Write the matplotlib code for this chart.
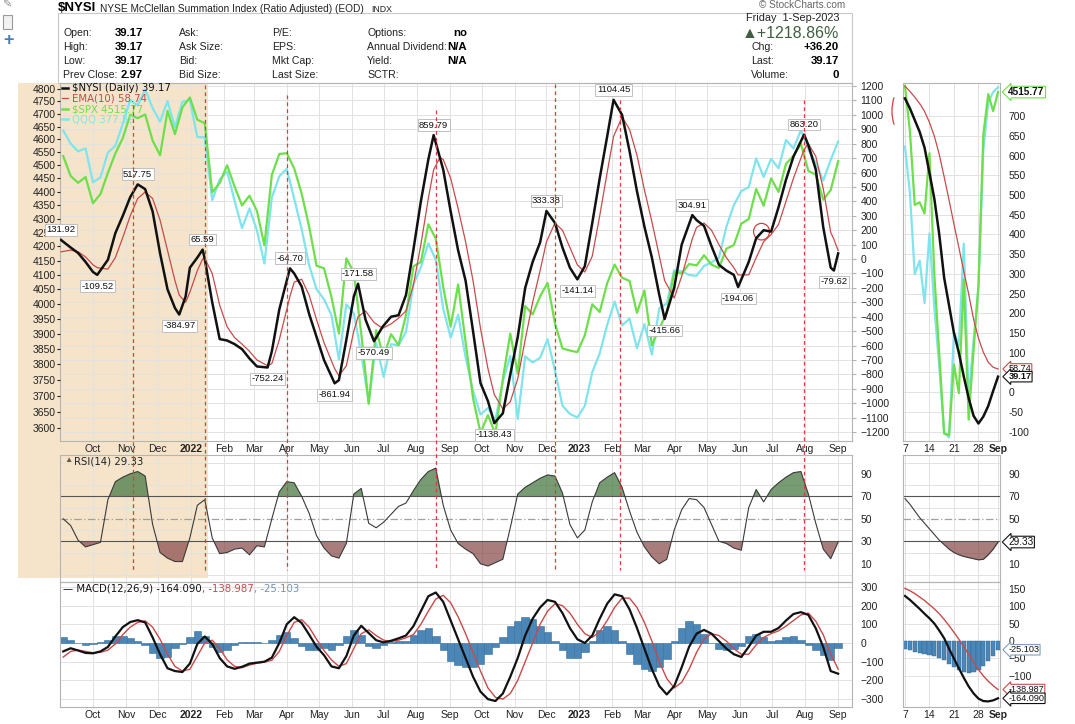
import numpy as np
import pandas as pd
import matplotlib
matplotlib.use('Agg')
import matplotlib.pyplot as plt
import matplotlib.dates as mdates
import matplotlib.transforms as mtransforms
from matplotlib.lines import Line2D
from matplotlib.text import Annotation
from matplotlib.patches import Rectangle, Arc, Ellipse

# ---------------------------------------------------------------
# values
# ---------------------------------------------------------------
# $NYSI and EMA(10): roughly weekly, plus the labelled swing points
nysi_dates = [
    '2021-09-01', '2021-09-10', '2021-09-17', '2021-09-24', '2021-10-01', '2021-10-05', '2021-10-15', '2021-10-22', '2021-10-29',
    '2021-11-05', '2021-11-12', '2021-11-19', '2021-11-26', '2021-12-03', '2021-12-10', '2021-12-17', '2021-12-21', '2021-12-27', '2021-12-31',
    '2022-01-07', '2022-01-12', '2022-01-14', '2022-01-21', '2022-01-28', '2022-02-04', '2022-02-11', '2022-02-18', '2022-02-25', '2022-03-04',
    '2022-03-14', '2022-03-18', '2022-03-25', '2022-04-04', '2022-04-08', '2022-04-15', '2022-04-22', '2022-04-29', '2022-05-06', '2022-05-16',
    '2022-05-20', '2022-05-27', '2022-06-03', '2022-06-07', '2022-06-14', '2022-06-22', '2022-06-30', '2022-07-08', '2022-07-15', '2022-07-22',
    '2022-07-29', '2022-08-05', '2022-08-12', '2022-08-17', '2022-08-23', '2022-08-26', '2022-09-02', '2022-09-09', '2022-09-16', '2022-09-23',
    '2022-09-30', '2022-10-07', '2022-10-13', '2022-10-21', '2022-10-28', '2022-11-04', '2022-11-11', '2022-11-18', '2022-11-25', '2022-12-01',
    '2022-12-09', '2022-12-16', '2022-12-23', '2022-12-30', '2023-01-06', '2023-01-13', '2023-01-20', '2023-01-27', '2023-02-02', '2023-02-10',
    '2023-02-17', '2023-02-24', '2023-03-03', '2023-03-10', '2023-03-17', '2023-03-22', '2023-03-31', '2023-04-07', '2023-04-17', '2023-04-21',
    '2023-04-28', '2023-05-05', '2023-05-12', '2023-05-19', '2023-05-26', '2023-05-30', '2023-06-09', '2023-06-16', '2023-06-23', '2023-06-30',
    '2023-07-07', '2023-07-14', '2023-07-21', '2023-07-31', '2023-08-04', '2023-08-11', '2023-08-18', '2023-08-25', '2023-08-28', '2023-09-01',
]
nysi = [
    131.92, 80, 42, -20, -90, -109.52, -5, 180, 300,
    430, 517.75, 485, 330, 40, -210, -340, -384.97, -260, -60,
    10, 65.59, 0, -300, -555, -565, -590, -625, -690, -745,
    -752.24, -640, -350, -64.70, -100, -190, -380, -540, -700, -861.94,
    -840, -560, -260, -171.58, -420, -570.49, -470, -400, -390, -250,
    65, 400, 690, 859.79, 700, 620, 330, 60, -150, -500,
    -860, -985, -1138.43, -1070, -800, -540, -200, -20, 115, 333.38,
    250, 80, -60, -141.14, -50, 250, 560, 850, 1104.45, 1000,
    750, 470, 225, 10, -250, -415.66, -200, 100, 304.91, 270,
    230, 90, -40, -80, -110, -194.06, -20, 145, 200, 190,
    360, 550, 710, 863.20, 790, 620, 220, -60, -79.62, 39.17,
]
ema10 = [
    50, 62, 50, 15, -40, -60, -70, 10, 150,
    300, 420, 465, 420, 270, 60, -150, -250, -300, -230,
    -80, 0, 5, -100, -320, -470, -545, -590, -640, -700,
    -740, -725, -560, -260, -160, -140, -250, -420, -580, -760,
    -810, -740, -500, -400, -360, -440, -480, -450, -410, -360,
    -180, 100, 420, 620, 705, 690, 560, 350, 120, -150,
    -480, -760, -940, -1040, -990, -830, -560, -300, -80, 120,
    250, 200, 80, -40, -90, 20, 300, 600, 850, 985,
    900, 720, 480, 260, 20, -150, -270, -120, 140, 220,
    250, 200, 100, 10, -60, -110, -110, 10, 120, 170,
    240, 400, 560, 760, 800, 712, 487, 185, 137, 58.74,
]

# weekly (Friday) series: $SPX, QQQ, RSI(14), MACD(12,26,9)
week_dates = pd.date_range('2021-09-03', '2023-09-01', freq='W-FRI')
spx = [
    4535, 4459, 4433, 4455, 4357, 4391, 4471, 4545, 4605, 4697, 4683, 4698, 4595, 4538, 4712, 4620, 4726, 4766,
    4677, 4663, 4398, 4432, 4500, 4419, 4349, 4385, 4329, 4204, 4463, 4543, 4546, 4488, 4393, 4272, 4132,
    4123, 4024, 3901, 4158, 4109, 3901, 3675, 3912, 3825, 3899, 3863, 3962, 4130, 4145, 4280, 4228, 4058,
    3924, 4067, 3873, 3693, 3586, 3640, 3583, 3753, 3901, 3771, 3993, 3965, 4026, 4072, 3934, 3852, 3845, 3840,
    3895, 3999, 3973, 4071, 4136, 4090, 4079, 3970, 4046, 3862, 3917, 3971, 4109, 4105, 4138, 4133, 4169,
    4136, 4124, 4192, 4205, 4282, 4299, 4410, 4348, 4450, 4399, 4505, 4536, 4582, 4478, 4464, 4370, 4406, 4515.77,
]
qqq = [
    382.9, 376.6, 372.9, 374.3, 358.6, 360.8, 372.4, 375.5, 386.1, 397.9, 395.3, 403.3, 393.9, 387.2, 397.4, 384.4, 397.0, 397.9,
    379.7, 379.6, 350.6, 359.9, 363.5, 350.3, 338.4, 346.9, 337.4, 323.6, 351.7, 361.3, 364.8, 351.2, 338.0, 323.0, 313.2,
    309.3, 303.1, 286.6, 307.3, 303.8, 288.8, 271.4, 292.6, 280.3, 292.2, 291.7, 296.7, 315.2, 322.0, 331.9, 325.1, 305.6,
    294.6, 303.3, 287.4, 275.4, 267.3, 269.5, 265.4, 278.7, 287.9, 265.8, 287.7, 285.5, 287.2, 294.0, 282.6, 270.3, 267.5, 266.3,
    270.2, 282.0, 288.8, 299.4, 308.4, 299.2, 301.8, 290.7, 299.7, 288.4, 305.8, 307.6, 320.9, 320.4, 318.9, 318.6, 322.6,
    324.0, 326.0, 339.0, 348.4, 354.6, 356.4, 369.6, 361.0, 369.4, 365.0, 378.3, 374.3, 383.0, 373.8, 367.5, 359.4, 368.9, 377.59,
]
rsi = [
    50, 44, 31, 25, 27, 29, 67, 83, 87, 90, 92, 88, 45, 20, 15, 12, 12, 33,
    62, 67, 33, 19, 20, 23, 24, 18, 26, 25, 50, 74, 83, 82, 70, 55, 35,
    24, 17, 15, 28, 72, 77, 46, 42, 47, 54, 61, 64, 75, 85, 92, 95, 62,
    40, 28, 23, 19, 10, 8, 11, 14, 42, 72, 78, 82, 86, 89, 88, 73, 45, 33,
    40, 65, 82, 87, 91, 78, 57, 38, 25, 16, 10, 14, 40, 58, 68, 67, 60,
    45, 30, 28, 24, 22, 60, 76, 65, 76, 82, 87, 91, 92, 72, 46, 23, 14.5, 29.33,
]
macd = [
    -45, -28, -40, -53, -55, -45, -21, 35, 85, 112, 122, 110, 30, -60, -135, -150, -155, -110,
    -5, 35, -5, -80, -125, -138, -127, -110, -105, -100, -78, 0, 100, 138, 107, 45, -20,
    -65, -125, -135, -70, 40, 92, 53, 15, 3, 12, 25, 40, 90, 170, 250, 270, 220,
    120, 20, -80, -180, -260, -300, -310, -270, -180, -80, 40, 130, 190, 230, 220, 160, 80, 20,
    0, 40, 130, 210, 260, 250, 180, 80, -30, -140, -230, -275, -230, -130, -20, 50, 70,
    50, 10, -30, -60, -75, -20, 40, 60, 60, 80, 120, 155, 165, 150, 78, -22, -150, -164.09,
]
signal = [
    -75, -45, -38, -45, -52, -50, -38, -5, 45, 85, 110, 118, 85, 20, -60, -125, -150, -140,
    -70, 0, 15, -30, -90, -125, -132, -118, -108, -102, -92, -45, 40, 110, 125, 85, 20,
    -40, -90, -125, -110, -30, 50, 70, 40, 15, 8, 15, 28, 45, 100, 170, 235, 255,
    215, 140, 50, -50, -150, -240, -290, -300, -270, -200, -100, 0, 100, 170, 210, 200, 160, 100,
    50, 30, 60, 120, 190, 240, 240, 190, 110, 10, -100, -190, -240, -210, -140, -50, 20,
    50, 40, 10, -30, -60, -60, -10, 30, 50, 65, 90, 120, 150, 160, 116, 44, -60, -138.99,
]
hist = [
    30, 17, -2, -8, -3, 5, 17, 40, 40, 27, 12, -8, -55, -80, -75, -25, -5, 30,
    65, 35, -20, -50, -35, -13, 5, 8, 3, 2, 14, 45, 60, 28, -18, -40, -40,
    -25, -35, -10, 40, 70, 42, -17, -25, -12, 4, 10, 12, 45, 70, 80, 35, -35,
    -95, -120, -130, -130, -110, -60, -20, 30, 90, 120, 140, 130, 90, 60, 10, -40, -80, -80,
    -50, 10, 70, 90, 70, 10, -60, -110, -140, -150, -130, -85, 10, 80, 120, 100, 50,
    0, -30, -40, -30, -15, 40, 50, 30, 10, 15, 30, 35, 15, -10, -38, -66, -90, -25.10,
]

# labelled swings (True = label above the line) and the red marker dates
swing_dates = ['2021-09-01', '2021-10-05', '2021-11-12', '2021-12-21', '2022-01-12', '2022-03-14', '2022-04-04',
               '2022-05-16', '2022-06-07', '2022-06-22', '2022-08-17', '2022-10-13', '2022-12-01', '2022-12-30',
               '2023-02-02', '2023-03-22', '2023-04-17', '2023-05-30', '2023-07-31', '2023-08-28']
swing_above = [True, False, True, False, True, False, True, False, True, False,
               True, False, True, False, True, False, True, False, True, False]
marker_dates = ['2021-11-08', '2022-01-14', '2022-04-01', '2022-08-19', '2022-12-09', '2023-02-08', '2023-07-31']
marker_top_px = [105, 85, 95, 110, 84, 100, 100]

# zoom panel: daily, 7-Aug-2023 .. 1-Sep-2023
zoom_ticks = [0, 5, 10, 15, 19]
zoom_tick_labels = ['7', '14', '21', '28', 'Sep']
zoom_nysi = [745, 720, 690, 660, 620, 556, 490, 400, 290, 220, 150, 100, 40, -15, -60, -79.62, -62, -35, 2.97, 39.17]
zoom_ema = [776, 763, 748, 732, 712, 684, 649, 603, 546, 487, 426, 367, 307, 249, 185, 137, 101, 76, 63, 58.74]
zoom_spx = [4518.44, 4499.38, 4467.71, 4468.83, 4464.05, 4489.72, 4437.86, 4404.33, 4370.36, 4369.71,
            4399.77, 4387.55, 4436.01, 4376.31, 4405.71, 4433.31, 4497.63, 4514.87, 4507.66, 4515.77]
zoom_qqq = [374.1, 371.4, 366.6, 367.4, 364.9, 369.0, 364.6, 361.2, 357.3, 357.0,
            363.2, 362.4, 368.4, 359.3, 362.7, 365.8, 373.9, 376.7, 377.3, 377.59]
zoom_rsi = [68, 63, 57, 51, 46, 41, 36, 31, 27, 23, 20, 18, 16.5, 15.5, 14.5, 13.5, 14, 18, 23, 29.33]
zoom_macd = [129, 118, 105, 92, 78, 65, 50, 30, 8, -22, -50, -78, -105, -130, -150, -165, -172, -173, -170, -164.09]
zoom_signal = [151, 144, 136, 126, 116, 104, 92, 78, 62, 44, 25, 5, -16, -38, -60, -82, -100, -115, -128, -138.99]
zoom_hist = [-22, -26, -31, -34, -38, -39, -42, -48, -54, -66, -75, -83, -89, -92, -90, -83, -72, -58, -42, -25.10]

# ---------------------------------------------------------------
W, H = 1075, 724
plt.rcParams['font.family'] = ['Liberation Sans', 'DejaVu Sans']
GRID = '#e2e2e2'
SPINE = '#b4b4b4'
BLACK = '#111111'
RED = '#c94a4a'
GREEN = '#6ddf4a'
CYAN = '#80e4ec'
TAN = '#f5e4ca'
FILL_UP = '#4a7a44'
FILL_DN = '#864646'
BLUE = '#4b86b6'

fig = plt.figure(figsize=(W / 100, H / 100), dpi=100)


def box(l, t, r, b):
    return [l / W, 1 - b / H, (r - l) / W, (b - t) / H]


def fp(x, y):
    return x / W, 1 - y / H


def style(a):
    a.set_facecolor('none')
    for s in a.spines.values():
        s.set_color(SPINE)
        s.set_linewidth(0.8)
    a.tick_params(colors='#222222', labelsize=7.5, length=0)


def hide(a):
    for s in a.spines.values():
        s.set_visible(False)
    a.set_yticks([])


# tan highlight behind the first months
fig.patches.append(Rectangle(fp(18, 578), 190 / W, 495 / H, transform=fig.transFigure,
                             facecolor=TAN, edgecolor='none', zorder=-5))

nd = pd.to_datetime(nysi_dates)
xmin, xmax = pd.Timestamp('2021-08-31'), pd.Timestamp('2023-09-14')
month_starts = pd.date_range('2021-10-01', '2023-09-01', freq='MS')
month_labels = [str(d.year) if d.month == 1 else d.strftime('%b') for d in month_starts]


def month_axis(a, labels=True):
    a.set_xlim(xmin, xmax)
    a.set_xticks(month_starts)
    if labels:
        a.set_xticklabels(month_labels)
        for t, d in zip(a.get_xticklabels(), month_starts):
            if d.month == 1:
                t.set_fontweight('bold')
    else:
        a.set_xticklabels([])
    a.tick_params(axis='x', pad=2)


# ---------------- main panel ----------------
ax = fig.add_axes(box(60, 83, 852, 441))
style(ax)
axq = ax.twinx()
axs = ax.twinx()
axn = ax.twinx()
month_axis(ax)
ax.set_ylim(-1262, 1221)
ax.set_yticks(range(-1200, 1201, 100))
ax.yaxis.tick_right()
ax.tick_params(axis='y', length=3, color=SPINE, pad=3)
ax.grid(True, color=GRID, lw=0.7)
ax.set_axisbelow(True)

axq.set_yscale('log')
axq.set_ylim(258.5, 406.6)
axq.plot(week_dates, qqq, color=CYAN, lw=1.6)
hide(axq)
axq.minorticks_off()

axs.set_yscale('log')
axs.set_ylim(3561, 4825)
axs.plot(week_dates, spx, color=GREEN, lw=1.6)
for s in axs.spines.values():
    s.set_visible(False)
axs.minorticks_off()
axs.set_yticks(range(3600, 4801, 50))
axs.set_yticklabels([str(v) for v in range(3600, 4801, 50)])
axs.yaxis.tick_left()
axs.tick_params(axis='y', labelsize=7.5, colors='#222222', length=2, pad=1)

axn.set_ylim(ax.get_ylim())
hide(axn)
l_ema, = axn.plot(nd, ema10, color=RED, lw=0.9)
l_nysi, = axn.plot(nd, nysi, color=BLACK, lw=1.8)
l_spx = Line2D([], [], color=GREEN, lw=1.8)
l_qqq = Line2D([], [], color=CYAN, lw=1.8)
leg = axn.legend([l_nysi, l_ema, l_spx, l_qqq],
                 [r'\$NYSI (Daily) 39.17', 'EMA(10) 58.74', r'\$SPX 4515.77', 'QQQ 377.59'],
                 loc='upper left', bbox_to_anchor=(0, 1.005), frameon=False, handlelength=0.6,
                 handletextpad=0.35, labelspacing=0.05, borderaxespad=0.1, borderpad=0.1,
                 prop={'family': 'DejaVu Sans', 'size': 7.3})
for txt, c in zip(leg.get_texts(), [BLACK, RED, GREEN, CYAN]):
    txt.set_color(c)

lookup = dict(zip(nysi_dates, nysi))
for d, above in zip(swing_dates, swing_above):
    v = lookup[d]
    axn.annotate(f'{v:.2f}', xy=(pd.Timestamp(d), v), xytext=(0, 4 if above else -5),
                 textcoords='offset points', ha='center', va='bottom' if above else 'top',
                 fontsize=6.8, color='#111111',
                 bbox=dict(boxstyle='square,pad=0.15', fc='white', ec='#b8b8b8', lw=0.6))

axn.add_patch(Ellipse((mdates.date2num(pd.Timestamp('2023-06-21')), 190), 15, 115,
                      fill=False, ec='#d04040', lw=0.9))

# ---------------- RSI panel ----------------
axr = fig.add_axes(box(60, 455, 852, 582))
style(axr)
month_axis(axr, labels=False)
axr.set_ylim(-6.2, 106.7)
axr.set_yticks([10, 30, 50, 70, 90])
axr.set_yticks([0, 20, 40, 60, 80, 100], minor=True)
axr.yaxis.tick_right()
axr.tick_params(axis='y', which='both', length=0, pad=6)
axr.grid(True, which='minor', axis='y', color=GRID, lw=0.7)
axr.grid(True, which='major', axis='x', color=GRID, lw=0.7)
axr.set_axisbelow(True)
r = np.array(rsi)
axr.fill_between(week_dates, r, 70, where=r >= 70, interpolate=True, color=FILL_UP, alpha=0.75, lw=0)
axr.fill_between(week_dates, r, 30, where=r <= 30, interpolate=True, color=FILL_DN, alpha=0.7, lw=0)
axr.axhline(70, color='#555555', lw=0.8)
axr.axhline(30, color='#555555', lw=0.8)
axr.axhline(50, color='#a0a0a0', lw=0.9, ls=(0, (6, 2, 1, 2)))
axr.plot(week_dates, rsi, color='#3a3a3a', lw=0.8)
axr.text(0.005, 0.985, '\u25b2', transform=axr.transAxes, fontsize=6, color='#6b5a3a', va='top', ha='left')
axr.text(0.018, 0.99, 'RSI(14) 29.33', transform=axr.transAxes, fontsize=7.3, family='DejaVu Sans',
         color='#222222', va='top', ha='left')

# ---------------- MACD panel ----------------
axm = fig.add_axes(box(60, 582, 852, 707))
style(axm)
month_axis(axm)
axm.set_ylim(-342, 326)
axm.set_yticks(range(-300, 301, 100))
axm.yaxis.tick_right()
axm.tick_params(axis='y', length=0, pad=6)
axm.grid(True, color=GRID, lw=0.7)
axm.set_axisbelow(True)
axm.bar(week_dates, hist, width=7, color=BLUE, edgecolor='#35709e', lw=0.4)
axm.plot(week_dates, signal, color=RED, lw=1.0)
axm.plot(week_dates, macd, color=BLACK, lw=1.6)
t1 = axm.text(0.004, 0.985, '\u2014 MACD(12,26,9) -164.090', transform=axm.transAxes, fontsize=7.3,
              family='DejaVu Sans', color=BLACK, va='top', ha='left')
t2 = axm.annotate(', -138.987', xy=(1, 0), xycoords=t1, va='bottom', ha='left', fontsize=7.3,
                  family='DejaVu Sans', color=RED)
axm.annotate(', -25.103', xy=(1, 0), xycoords=t2, va='bottom', ha='left', fontsize=7.3,
             family='DejaVu Sans', color='#6f93b8')

# red event markers through the price and RSI panels
tr = mtransforms.blended_transform_factory(ax.transData, fig.transFigure)
for d, top in zip(marker_dates, marker_top_px):
    xd = mdates.date2num(pd.Timestamp(d))
    fig.add_artist(Line2D([xd, xd], [1 - top / H, 1 - 570 / H], transform=tr,
                          color='#dd3a3a', lw=0.9, ls=(0, (3, 2.5))))

# ---------------- zoom panels ----------------
zx = np.arange(len(zoom_nysi))


def zoom_axis(a, labels=True):
    a.set_xlim(-0.4, 19.4)
    a.set_xticks(zoom_ticks)
    if labels:
        a.set_xticklabels(zoom_tick_labels)
        a.get_xticklabels()[-1].set_fontweight('bold')
    else:
        a.set_xticklabels([])
    a.tick_params(axis='x', pad=2)


def tag(a, y, text, ec, bold=False, size=7.2):
    a.annotate(text, xy=(1, y), xycoords=('axes fraction', 'data'), xytext=(6, 0),
               textcoords='offset points', ha='left', va='center', fontsize=size,
               fontweight='bold' if bold else 'normal', color='#111111', annotation_clip=False,
               bbox=dict(boxstyle='larrow,pad=0.08', fc='white', ec=ec, lw=0.8))


az = fig.add_axes(box(903, 83, 1000, 441))
style(az)
azq = az.twinx()
azs = az.twinx()
azn = az.twinx()
zoom_axis(az)
az.set_ylim(-124, 784)
az.set_yticks(range(-100, 701, 50))
az.set_yticklabels(['' if v == 50 else str(v) for v in range(-100, 701, 50)])
az.yaxis.tick_right()
az.tick_params(axis='y', length=0, pad=6)
az.grid(True, color=GRID, lw=0.7)
az.set_axisbelow(True)
qr = max(zoom_qqq) - min(zoom_qqq)
azq.set_ylim(min(zoom_qqq) - 0.01 * qr, max(zoom_qqq) + 0.012 * qr)
azq.plot(zx, zoom_qqq, color=CYAN, lw=1.6)
hide(azq)
sr = max(zoom_spx) - min(zoom_spx)
azs.set_ylim(min(zoom_spx) - 0.017 * sr, max(zoom_spx) + 0.008 * sr)
azs.plot(zx, zoom_spx, color=GREEN, lw=1.6)
hide(azs)
azn.set_ylim(az.get_ylim())
hide(azn)
azn.plot(zx, zoom_ema, color=RED, lw=0.9)
azn.plot(zx, zoom_nysi, color=BLACK, lw=1.8)
tag(azs, zoom_spx[-1], '4515.77', GREEN, bold=True)
tag(azn, zoom_ema[-1], '58.74', RED, size=6.6)
tag(azn, zoom_nysi[-1], '39.17', BLACK, bold=True, size=6.6)

azr = fig.add_axes(box(903, 455, 1000, 582))
style(azr)
zoom_axis(azr, labels=False)
azr.set_ylim(-6.2, 106.7)
azr.set_yticks([10, 50, 70, 90])
azr.set_yticks([0, 20, 40, 60, 80, 100], minor=True)
azr.yaxis.tick_right()
azr.tick_params(axis='y', which='both', length=0, pad=6)
azr.grid(True, which='minor', axis='y', color=GRID, lw=0.7)
azr.grid(True, which='major', axis='x', color=GRID, lw=0.7)
azr.set_axisbelow(True)
zr = np.array(zoom_rsi)
azr.fill_between(zx, zr, 30, where=zr <= 30, interpolate=True, color=FILL_DN, alpha=0.7, lw=0)
azr.axhline(70, color='#555555', lw=0.8)
azr.axhline(30, color='#555555', lw=0.8)
azr.axhline(50, color='#a0a0a0', lw=0.9, ls=(0, (6, 2, 1, 2)))
azr.plot(zx, zoom_rsi, color='#3a3a3a', lw=0.8)
tag(azr, zoom_rsi[-1], '29.33', BLACK)

azm = fig.add_axes(box(903, 582, 1000, 707))
style(azm)
zoom_axis(azm)
azm.set_ylim(-189, 169)
azm.set_yticks(range(-100, 151, 50))
azm.yaxis.tick_right()
azm.tick_params(axis='y', length=0, pad=6)
azm.grid(True, color=GRID, lw=0.7)
azm.set_axisbelow(True)
azm.bar(zx, zoom_hist, width=0.85, color=BLUE, edgecolor='#2f6592', lw=0.3)
azm.plot(zx, zoom_signal, color=RED, lw=1.0)
azm.plot(zx, zoom_macd, color=BLACK, lw=1.6)
tag(azm, zoom_hist[-1], '-25.103', '#7f9fbf', size=6.6)
tag(azm, zoom_signal[-1], '-138.987', RED, size=6.6)
tag(azm, zoom_macd[-1], '-164.090', BLACK, size=6.6)

fig.add_artist(Arc((902 / 100, (H - 111) / 100), 0.2, 0.44, theta1=120, theta2=240,
                   transform=fig.dpi_scale_trans, color='#d04040', lw=0.9))

# ---------------- header ----------------
fig.patches.append(Rectangle(fp(58, 83), (852 - 58) / W, 70 / H, transform=fig.transFigure,
                             facecolor='white', edgecolor='#c8c8c8', lw=0.8, zorder=-4))
t_sym = fig.text(*fp(58, 8), r'\$NYSI', fontsize=9.5, fontweight='bold', va='center', ha='left')
t_name = fig.add_artist(Annotation(
    'NYSE McClellan Summation Index (Ratio Adjusted) (EOD)', xy=(1, 0), xycoords=t_sym,
    xytext=(3, 0), textcoords='offset points', va='bottom', ha='left', fontsize=7.3, color='#222222'))
fig.add_artist(Annotation('INDX', xy=(1, 0), xycoords=t_name, xytext=(5, 0),
                          textcoords='offset points', va='bottom', ha='left',
                          fontsize=6.3, color='#222222'))
fig.text(*fp(845, 5), '\u00a9 StockCharts.com', fontsize=7.2, va='center', ha='right', color='#666666')

# toolbar icons at the far left
fig.patches.append(Rectangle(fp(3, 29), 9 / W, 14 / H, transform=fig.transFigure,
                             facecolor='#f2f2f2', edgecolor='#9a9a9a', lw=0.8))
fig.text(*fp(7, 5), '\u270e', fontsize=8, va='center', ha='center', color='#8a8a8a',
         family='DejaVu Sans')
fig.text(*fp(8, 40), '+', fontsize=13, va='center', ha='center', color='#4a7fb0', fontweight='bold')

rows_y = [33, 47, 61, 75]
header_cols = [
    (63, ['Open:', 'High:', 'Low:', 'Prev Close:']),
    (179, ['Ask:', 'Ask Size:', 'Bid:', 'Bid Size:']),
    (272, ['P/E:', 'EPS:', 'Mkt Cap:', 'Last Size:']),
    (367, ['Options:', 'Annual Dividend:', 'Yield:', 'SCTR:']),
]
for x0, names in header_cols:
    for y0, name in zip(rows_y, names):
        fig.text(*fp(x0, y0), name, fontsize=7.6, va='center', ha='left', color='#222222')
for y0, val in zip(rows_y, ['39.17', '39.17', '39.17', '2.97']):
    fig.text(*fp(143, y0), val, fontsize=8.2, fontweight='bold', va='center', ha='right')
for y0, val in zip(rows_y[:3], ['no', 'N/A', 'N/A']):
    fig.text(*fp(467, y0), val, fontsize=8.2, fontweight='bold', va='center', ha='right')

fig.text(*fp(839, 18), 'Friday  1-Sep-2023', fontsize=7.8, va='center', ha='right', color='#222222')
fig.text(*fp(839, 33), '\u25b2+1218.86%', fontsize=11.5, va='center', ha='right', color='#3f5f3f')
for y0, name, val in zip([47, 61, 75], ['Chg:', 'Last:', 'Volume:'], ['+36.20', '39.17', '0']):
    fig.text(*fp(751, y0), name, fontsize=7.6, va='center', ha='left', color='#222222')
    fig.text(*fp(839, y0), val, fontsize=8.2, fontweight='bold', va='center', ha='right')

fig.savefig('out.png', dpi=100)
